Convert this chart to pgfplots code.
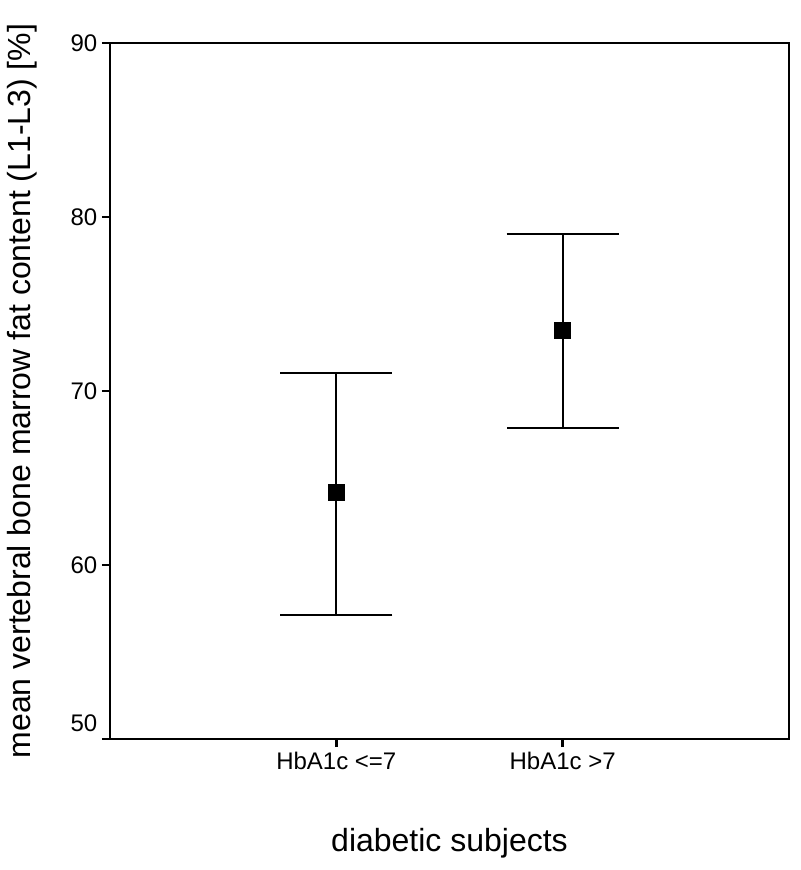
\documentclass[border=0pt]{standalone}
\usepackage{pgfplots}
\pgfplotsset{compat=1.18}
\usepackage{fontspec}
\setmainfont{Liberation Sans}
\begin{document}
\begin{tikzpicture}
\begin{axis}[
 scale only axis, width=509.25pt, height=522pt,
 xmin=-1, xmax=2, ymin=50, ymax=90,
 xtick={0,1}, xticklabels={HbA1c <=7, HbA1c >7},
 ytick={50,60,70,80,90}, yticklabels={{\raisebox{24pt}{50}},60,70,80,90},
 tick align=outside, xtick pos=bottom, ytick pos=left,
 major tick length=6pt,
 axis line style={line width=1.5pt},
 every tick/.style={black, line width=2pt},
 tick label style={font=\fontsize{18}{20}\selectfont},
 label style={font=\fontsize{24}{28}\selectfont},
 xlabel={diabetic subjects},
 ylabel={mean vertebral bone marrow fat content (L1-L3) [\%]},
 xlabel style={at={(axis description cs:0.5,-0.1494)}, anchor=center},
 ylabel style={at={(axis description cs:-0.1296,0.5)}, anchor=center},
 /pgf/number format/assume math mode=true,
 clip=false,
]
\coordinate (o) at (rel axis cs:0,0);
\addplot[black, only marks, mark=square*, mark size=6pt, mark options={line width=0pt, fill=black},
  error bars/.cd, y dir=both, y explicit, error mark=|,
  error mark options={mark size=42pt, line width=1.5pt, black},
  error bar style={line width=1.5pt, black}]
  table[x=x, y=y, y error plus=ep, y error minus=em] {
x y ep em
0 64.16 6.89 7.03
1 73.45 5.55 5.59
};
\end{axis}
\path (o) ++(-82.5pt,-98.25pt) rectangle ++(600pt,652.5pt);
\end{tikzpicture}
\end{document}
